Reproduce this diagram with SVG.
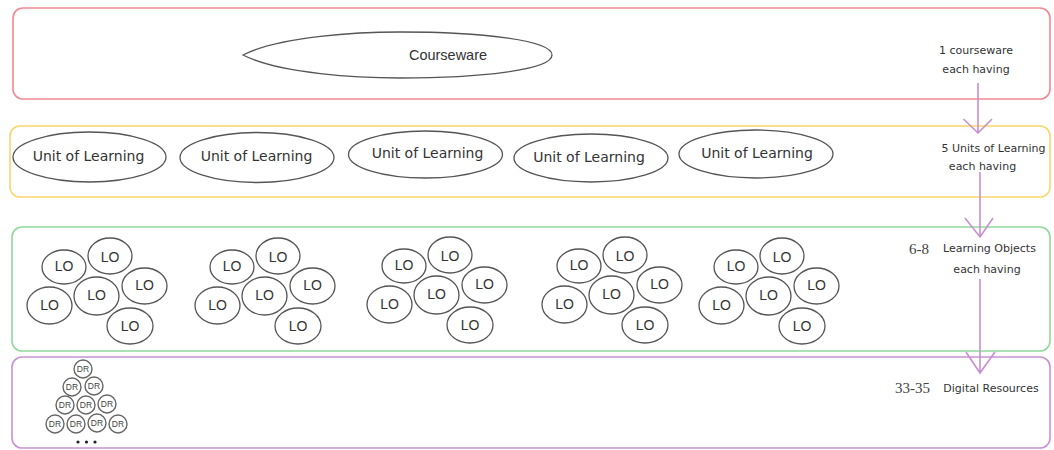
<svg xmlns="http://www.w3.org/2000/svg" width="1054" height="450" viewBox="0 0 1054 450">
<style>
.band{fill:none;stroke-width:1.6}
.ell{fill:#fff;stroke:#555;stroke-width:1.3}
.uol{font-family:"DejaVu Sans",Verdana,sans-serif;font-size:14px;fill:#333;text-anchor:middle;dominant-baseline:central}
.lo{font-family:"Liberation Sans",Arial,sans-serif;font-size:14px;fill:#333;text-anchor:middle;dominant-baseline:central}
.dr{font-family:"Liberation Sans",Arial,sans-serif;font-size:8.5px;fill:#444;text-anchor:middle;dominant-baseline:central}
.drc{fill:#fff;stroke:#666;stroke-width:1.4}
.lbl{font-family:"DejaVu Sans",Verdana,sans-serif;font-size:11px;fill:#333;text-anchor:middle}
.num{font-family:"Liberation Serif","Times New Roman",serif;font-size:15px;fill:#444}
.arr{fill:none;stroke:#c88fd2;stroke-width:1.6}
</style>
<defs>
<g id="lo-cluster">
<ellipse class="ell" cx="64" cy="267" rx="22" ry="17"/><text class="lo" x="64" y="266">LO</text>
<ellipse class="ell" cx="110" cy="256" rx="22" ry="18"/><text class="lo" x="110" y="257">LO</text>
<ellipse class="ell" cx="144.5" cy="286" rx="22.5" ry="18"/><text class="lo" x="144.5" y="285">LO</text>
<ellipse class="ell" cx="96.5" cy="296" rx="22.5" ry="19"/><text class="lo" x="96.5" y="295">LO</text>
<ellipse class="ell" cx="49.5" cy="305.5" rx="22.5" ry="18.5"/><text class="lo" x="49.5" y="305">LO</text>
<ellipse class="ell" cx="130" cy="326" rx="23" ry="18"/><text class="lo" x="130" y="326">LO</text>
</g>
</defs>
<rect width="1054" height="450" fill="#fff"/>
<g id="band-courseware"><rect class="band" x="13" y="8" width="1037" height="91" rx="10" stroke="#f28890"/></g>
<g id="band-units"><rect class="band" x="10" y="126" width="1040" height="71" rx="10" stroke="#fad66e"/></g>
<g id="band-objects"><rect class="band" x="12" y="227" width="1038" height="124" rx="10" stroke="#90d99c"/></g>
<g id="band-resources"><rect class="band" x="12" y="357" width="1038" height="91" rx="10" stroke="#c892d4"/></g>

<g id="courseware">
<path class="ell" d="M243,55 C280,36 360,32 400,32 C480,32 552,40 552,55 C552,70 480,78 400,78 C360,78 280,74 243,55 Z"/>
<text x="448" y="55" style="font-family:'Liberation Sans',Arial,sans-serif;font-size:14.5px;fill:#333;text-anchor:middle;dominant-baseline:central">Courseware</text>
</g>

<g id="uol-1"><ellipse class="ell" cx="89.5" cy="157" rx="76.5" ry="25"/><text class="uol" x="88.5" y="156">Unit of Learning</text></g>
<g id="uol-2"><ellipse class="ell" cx="257" cy="157.5" rx="77" ry="25"/><text class="uol" x="256.5" y="156">Unit of Learning</text></g>
<g id="uol-3"><ellipse class="ell" cx="425.5" cy="154.5" rx="77" ry="23.5"/><text class="uol" x="427.5" y="153">Unit of Learning</text></g>
<g id="uol-4"><ellipse class="ell" cx="591" cy="158" rx="77" ry="24"/><text class="uol" x="589" y="157">Unit of Learning</text></g>
<g id="uol-5"><ellipse class="ell" cx="756" cy="154" rx="77" ry="24"/><text class="uol" x="757" y="153">Unit of Learning</text></g>

<g id="lo-group-1"><use href="#lo-cluster"/></g>
<g id="lo-group-2"><use href="#lo-cluster" transform="translate(168,0)"/></g>
<g id="lo-group-3"><use href="#lo-cluster" transform="translate(340,-1)"/></g>
<g id="lo-group-4"><use href="#lo-cluster" transform="translate(515,-1)"/></g>
<g id="lo-group-5"><use href="#lo-cluster" transform="translate(672,0)"/></g>

<g id="dr-pyramid">
<circle class="drc" cx="83" cy="369" r="9"/><text class="dr" x="83" y="369">DR</text>
<circle class="drc" cx="72" cy="387" r="9"/><text class="dr" x="72" y="387">DR</text>
<circle class="drc" cx="94" cy="386" r="9"/><text class="dr" x="94" y="386">DR</text>
<circle class="drc" cx="65" cy="405" r="9"/><text class="dr" x="65" y="405">DR</text>
<circle class="drc" cx="86" cy="405" r="9"/><text class="dr" x="86" y="405">DR</text>
<circle class="drc" cx="107" cy="404" r="9"/><text class="dr" x="107" y="404">DR</text>
<circle class="drc" cx="55" cy="424" r="9"/><text class="dr" x="55" y="424">DR</text>
<circle class="drc" cx="76" cy="424" r="9"/><text class="dr" x="76" y="424">DR</text>
<circle class="drc" cx="97" cy="423" r="9"/><text class="dr" x="97" y="423">DR</text>
<circle class="drc" cx="118" cy="424" r="9"/><text class="dr" x="118" y="424">DR</text>
<circle cx="78" cy="442" r="1.6" fill="#222"/><circle cx="86.5" cy="442" r="1.6" fill="#222"/><circle cx="95" cy="442" r="1.6" fill="#222"/>
</g>

<g id="labels">
<text class="lbl" x="976" y="54">1 courseware</text>
<text class="lbl" x="976" y="73">each having</text>
<text class="lbl" x="993.5" y="152">5 Units of Learning</text>
<text class="lbl" x="982.5" y="170">each having</text>
<text class="num" x="909" y="254">6-8</text>
<text class="lbl" x="989.5" y="252">Learning Objects</text>
<text class="lbl" x="987" y="273">each having</text>
<text class="num" x="895" y="393">33-35</text>
<text class="lbl" x="991" y="392">Digital Resources</text>
</g>

<g id="connectors">
<path class="arr" d="M978,83 V133 M963.5,119 L978,133 L992,119"/>
<path class="arr" d="M980,172 V237 M965,218 L980,237 L993,218"/>
<path class="arr" d="M980,279 V373 M966,352 L980,373 L995,352"/>
</g>
</svg>
